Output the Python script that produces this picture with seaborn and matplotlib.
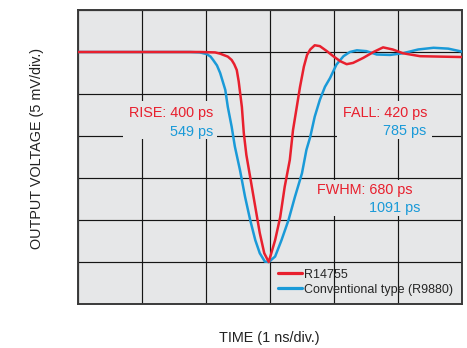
import matplotlib
matplotlib.use("Agg")
import matplotlib.pyplot as plt
from matplotlib.patches import Rectangle
import seaborn as sns
import pandas as pd

# ---- data (time in ns = divisions, voltage in divisions) ----
red_t = [0.00, 1.12, 1.90, 2.14, 2.22, 2.27, 2.34, 2.40, 2.44, 2.48, 2.51, 2.56, 2.59, 2.63, 2.69,
         2.77, 2.84, 2.91, 2.98, 3.08, 3.16, 3.23, 3.31, 3.36, 3.42, 3.47, 3.53, 3.58, 3.63,
         3.70, 3.78, 3.89, 3.99, 4.10, 4.20, 4.30, 4.46, 4.62, 4.77, 4.92, 5.08, 5.35, 5.66, 6.00]
red_v = [6.00, 6.00, 6.00, 5.99, 5.96, 5.93, 5.89, 5.81, 5.71, 5.57, 5.30, 4.69, 4.07, 3.55, 3.02,
         2.31, 1.69, 1.21, 1.00, 1.52, 2.07, 2.79, 3.43, 4.14, 4.70, 5.17, 5.65, 5.93, 6.06,
         6.16, 6.14, 6.02, 5.90, 5.78, 5.71, 5.74, 5.86, 6.00, 6.11, 6.06, 5.97, 5.90, 5.89, 5.88]

blue_t = [0.00, 1.75, 1.90, 2.01, 2.07, 2.11, 2.17, 2.22, 2.30, 2.34, 2.40, 2.45, 2.53, 2.61, 2.69, 2.77,
          2.84, 2.92, 2.98, 3.08, 3.18, 3.29, 3.39, 3.50, 3.57, 3.63, 3.70, 3.78, 3.86, 3.94,
          4.04, 4.15, 4.25, 4.36, 4.51, 4.67, 4.88, 5.08, 5.32, 5.56, 5.79, 6.00]
blue_v = [6.00, 6.00, 5.99, 5.95, 5.89, 5.81, 5.68, 5.50, 5.10, 4.69, 4.22, 3.75, 3.19, 2.55, 2.00, 1.52,
          1.21, 1.01, 1.00, 1.13, 1.52, 2.00, 2.55, 3.11, 3.67, 3.98, 4.46, 4.86, 5.17, 5.38,
          5.70, 5.90, 6.00, 6.04, 6.02, 5.94, 5.93, 5.97, 6.06, 6.10, 6.08, 6.01]

series_names = ["R14755", "Conventional type (R9880)"]
x_label = "TIME (1 ns/div.)"
y_label = "OUTPUT VOLTAGE (5 mV/div.)"
red_notes = ["RISE: 400 ps", "FALL: 420 ps", "FWHM: 680 ps"]
blue_notes = ["549 ps", "785 ps", "1091 ps"]

RED = "#e8202e"
BLUE = "#1a9ad8"
BG = "#e6e7e8"

sns.set_style("white")
plt.rcParams["font.family"] = ["Liberation Sans", "DejaVu Sans"]

fig = plt.figure(figsize=(4.67, 3.48), dpi=100)
ax = fig.add_axes([0.1677, 0.1264, 0.8209, 0.8449])
ax.set_facecolor(BG)

df_red = pd.DataFrame({"t": red_t, "v": red_v})
df_blue = pd.DataFrame({"t": blue_t, "v": blue_v})
sns.lineplot(data=df_blue, x="t", y="v", color=BLUE, linewidth=1.8, sort=False,
             estimator=None, label=series_names[1], ax=ax, zorder=3)
sns.lineplot(data=df_red, x="t", y="v", color=RED, linewidth=1.8, sort=False,
             estimator=None, label=series_names[0], ax=ax, zorder=4)
for ln in ax.lines:
    ln.set_solid_joinstyle("round")

ax.set_xlim(0, 6)
ax.set_ylim(0, 7)
ax.set_xticks(range(0, 7))
ax.set_yticks(range(0, 8))
ax.tick_params(length=0, labelbottom=False, labelleft=False)
ax.grid(True, color="#151515", linewidth=0.85)
ax.set_axisbelow(True)
for s in ax.spines.values():
    s.set_color("#3a3a3a")
    s.set_linewidth(1.4)

# background boxes interrupting the grid behind annotations
for (x0, x1, y0, y1) in [(0.70, 2.17, 3.92, 4.83), (4.05, 5.53, 3.92, 4.83), (3.68, 5.43, 2.10, 2.95)]:
    ax.add_patch(Rectangle((x0, y0), x1 - x0, y1 - y0, facecolor=BG, edgecolor="none", zorder=1))

fs = 10.4
ax.text(2.11, 4.445, red_notes[0], color=RED, fontsize=fs, ha="right", va="baseline", zorder=5)
ax.text(2.11, 4.00, blue_notes[0], color=BLUE, fontsize=fs, ha="right", va="baseline", zorder=5)
ax.text(5.47, 4.46, red_notes[1], color=RED, fontsize=fs, ha="right", va="baseline", zorder=5)
ax.text(5.45, 4.02, blue_notes[1], color=BLUE, fontsize=fs, ha="right", va="baseline", zorder=5)
ax.text(5.23, 2.62, red_notes[2], color=RED, fontsize=fs, ha="right", va="baseline", zorder=5)
ax.text(5.35, 2.20, blue_notes[2], color=BLUE, fontsize=fs, ha="right", va="baseline", zorder=5)

ax.set_xlabel(x_label, fontsize=fs, color="#222222")
ax.set_ylabel(y_label, fontsize=fs, color="#222222")
ax.xaxis.label.set_va("center")
ax.yaxis.label.set_va("center")
ax.xaxis.set_label_coords(0.497, -0.1156)
ax.yaxis.set_label_coords(-0.1077, 0.529)

h, l = ax.get_legend_handles_labels()
order = [l.index(series_names[0]), l.index(series_names[1])]
leg = ax.legend([h[i] for i in order], [l[i] for i in order], loc="upper left",
                bbox_to_anchor=(0.5216, 0.1207), frameon=False, fontsize=9,
                handlelength=1.87, handletextpad=0.2, labelspacing=0.26,
                borderpad=0, borderaxespad=0)
for lh in leg.get_lines():
    lh.set_linewidth(2.3)

fig.savefig("out.png", dpi=100)
